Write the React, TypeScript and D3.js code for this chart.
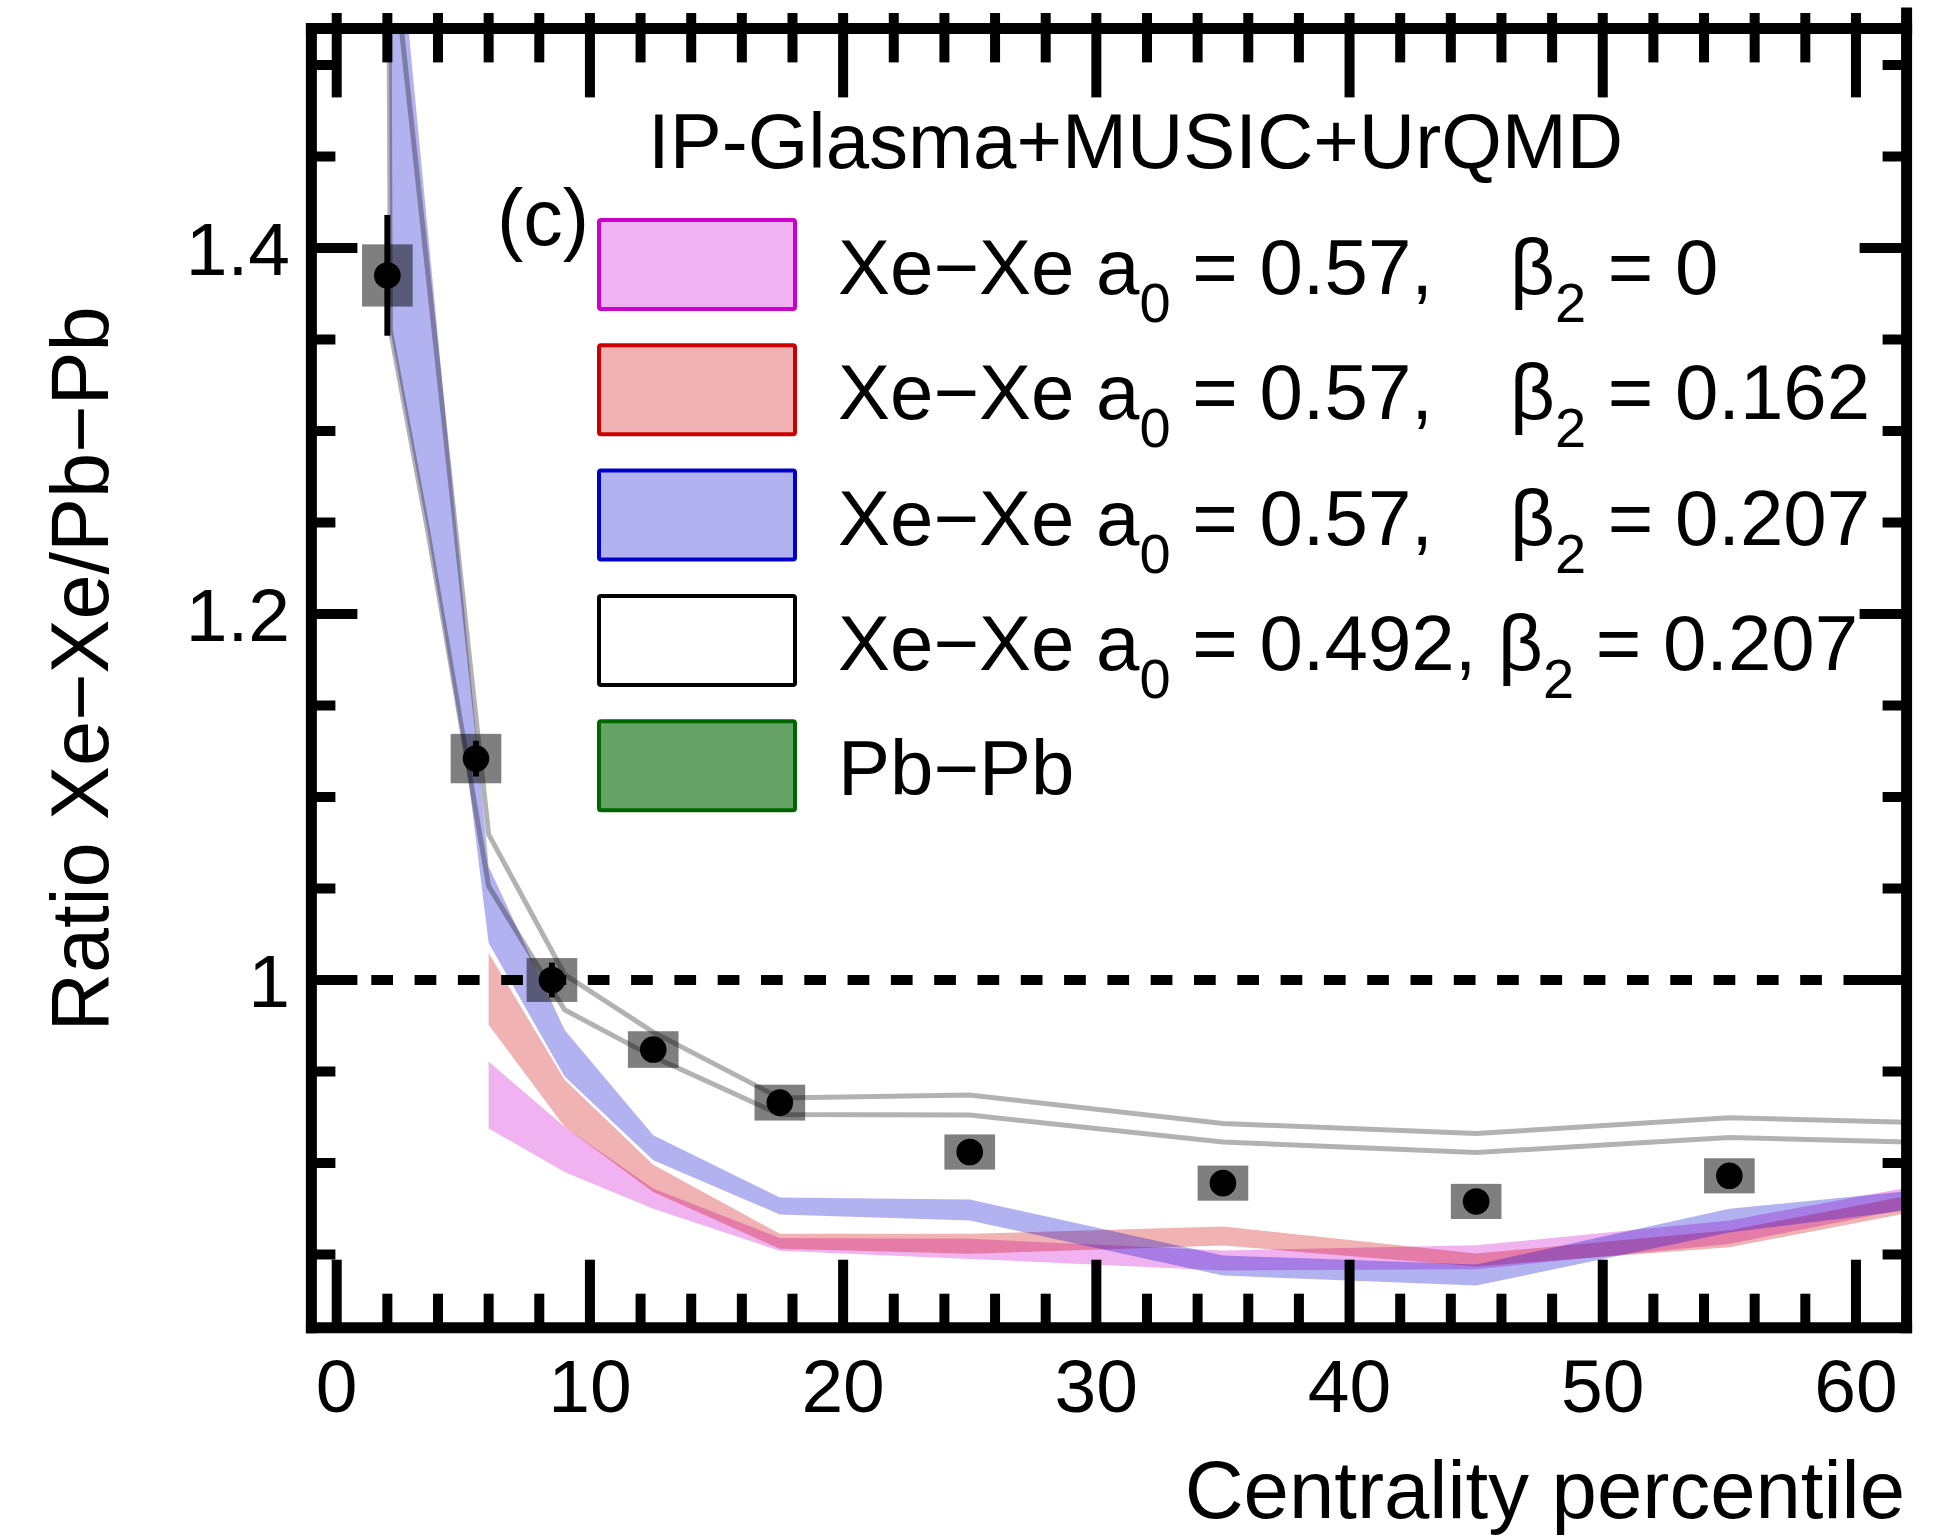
import React from 'react';
import * as d3 from 'd3';

const W = 1952;
const H = 1538;
const FONT = '"Liberation Sans", Arial, Helvetica, sans-serif';

const X_DOMAIN: [number, number] = [-1, 62];
const Y_DOMAIN: [number, number] = [0.81, 1.52];

const xMajorTicks = [0, 10, 20, 30, 40, 50, 60];
const xTickLabels = ['0', '10', '20', '30', '40', '50', '60'];
const yMajorTicks = [1.0, 1.2, 1.4];
const yTickLabels = ['1', '1.2', '1.4'];

// ALICE-like data points
const dataX = [2, 5.5, 8.5, 12.5, 17.5, 25, 35, 45, 55];
const dataY = [1.385, 1.121, 1.0, 0.962, 0.933, 0.906, 0.889, 0.879, 0.893];
const dataStat = [0.033, 0.0098, 0.0095, 0.005, 0.005, 0.004, 0.004, 0.004, 0.004];
const dataSys = [0.017, 0.0135, 0.012, 0.01, 0.0098, 0.0096, 0.0096, 0.0096, 0.0096];

// Xe-Xe a0=0.57, beta2=0
const pinkX = [6, 9, 12.5, 17.5, 25, 35, 45, 55, 62];
const pinkLow = [0.9189, 0.8951, 0.875, 0.852, 0.8476, 0.8412, 0.842, 0.8558, 0.875];
const pinkHigh = [0.9554, 0.9198, 0.886, 0.859, 0.8586, 0.8522, 0.855, 0.8686, 0.8865];

// Xe-Xe a0=0.57, beta2=0.162
const redX = [6, 9, 12.5, 17.5, 25, 35, 45, 55, 62];
const redLow = [0.9755, 0.9198, 0.8842, 0.8531, 0.8504, 0.8549, 0.8435, 0.854, 0.8725];
const redHigh = [1.0147, 0.9455, 0.899, 0.8613, 0.8613, 0.8653, 0.8505, 0.8632, 0.882];

// Xe-Xe a0=0.57, beta2=0.207
const blueX = [1.95, 2.12, 3.6, 5.2, 6, 9, 12.5, 17.5, 25, 35, 45, 55, 62];
const blueLow = [1.9, 1.355, 1.245, 1.11, 1.0202, 0.9472, 0.9015, 0.8719, 0.8686, 0.8385, 0.833, 0.862, 0.874];
const blueHigh = [1.647, 1.623, 1.409, 1.178, 1.062, 0.9727, 0.9152, 0.8811, 0.88, 0.8495, 0.8445, 0.875, 0.8845];

// Xe-Xe a0=0.492, beta2=0.207 (outline only)
const grayX = [1.95, 2.12, 3.6, 4.4, 6, 9, 12.5, 17.5, 25, 35, 45, 55, 62];
const grayLow = [1.9, 1.355, 1.245, 1.181, 1.0513, 0.9837, 0.958, 0.9265, 0.9262, 0.9115, 0.9057, 0.9139, 0.9115];
const grayHigh = [1.596, 1.575, 1.386, 1.284, 1.0796, 1.003, 0.9715, 0.9355, 0.9371, 0.9216, 0.9161, 0.9247, 0.9222];

const legendFills = ['rgba(204,0,204,0.3)', 'rgba(204,0,0,0.3)', 'rgba(0,0,204,0.3)', '#ffffff', 'rgba(0,102,0,0.6)'];
const legendStrokes = ['#cc00cc', '#cc0000', '#0000cc', '#000000', '#006600'];
const legendA0 = ['0.57,', '0.57,', '0.57,', '0.492,', ''];
const legendBeta = ['0', '0.162', '0.207', '0.207', ''];

export default function App() {
  const left = 311.4, right = 1906.6, top = 28.4, bottom = 1327.7;
  const x = d3.scaleLinear().domain(X_DOMAIN).range([left, right]);
  const y = d3.scaleLinear().domain(Y_DOMAIN).range([bottom, top]);

  const bandPath = (xs: number[], lo: number[], hi: number[]) =>
    d3.area<number>()
      .x((_, i) => x(xs[i]))
      .y0((_, i) => y(lo[i]))
      .y1((_, i) => y(hi[i]))(xs) || '';
  const linePath = (xs: number[], vs: number[]) =>
    d3.line<number>().x((_, i) => x(xs[i])).y((_, i) => y(vs[i]))(xs) || '';

  const xMinor = d3.range(0, 63, 2).filter((v) => v % 10 !== 0);
  const yMinor = d3.range(17, 31).map((k) => +(k * 0.05).toFixed(2)).filter((v) => v > 0.81 && v < 1.52 && Math.abs(v * 5 - Math.round(v * 5)) > 1e-6);

  const TW = 10;
  const frameW = 11;

  return (
    <svg width={W} height={H} style={{ position: 'absolute', left: 0, top: 0, background: '#fff' }} fontFamily={FONT}>
      <rect x={0} y={0} width={W} height={H} fill="#fff" />
      <defs>
        <clipPath id="plotclip">
          <rect x={left} y={top} width={right - left} height={bottom - top} />
        </clipPath>
      </defs>

      <g clipPath="url(#plotclip)">
        <path d={bandPath(pinkX, pinkLow, pinkHigh)} fill="rgb(204,0,204)" fillOpacity={0.3} />
        <path d={bandPath(redX, redLow, redHigh)} fill="rgb(204,0,0)" fillOpacity={0.3} />
        <path d={bandPath(blueX, blueLow, blueHigh)} fill="rgb(0,0,204)" fillOpacity={0.3} />
        <path d={linePath(grayX, grayLow)} fill="none" stroke="#000" strokeOpacity={0.3} strokeWidth={5} />
        <path d={linePath(grayX, grayHigh)} fill="none" stroke="#000" strokeOpacity={0.3} strokeWidth={5} />
        <line x1={328} x2={right} y1={y(1)} y2={y(1)} stroke="#000" strokeWidth={10} strokeDasharray="21.7 21.6" />
        {dataX.map((d, i) => (
          <rect key={'s' + i} x={x(d - 1)} y={y(dataY[i] + dataSys[i])} width={x(d + 1) - x(d - 1)}
            height={y(dataY[i] - dataSys[i]) - y(dataY[i] + dataSys[i])} fill="#000" fillOpacity={0.5} />
        ))}
        {dataX.map((d, i) => (
          <line key={'e' + i} x1={x(d)} x2={x(d)} y1={y(dataY[i] + dataStat[i])} y2={y(dataY[i] - dataStat[i])} stroke="#000" strokeWidth={6} />
        ))}
        {dataX.map((d, i) => (
          <circle key={'c' + i} cx={x(d)} cy={y(dataY[i])} r={13.3} fill="#000" />
        ))}
      </g>

      {/* ticks */}
      <g stroke="#000" strokeWidth={TW}>
        {xMinor.map((v) => (
          <g key={'xm' + v}>
            <line x1={x(v)} x2={x(v)} y1={bottom} y2={bottom - 34} />
            <line x1={x(v)} x2={x(v)} y1={13} y2={top + 34} />
          </g>
        ))}
        {xMajorTicks.map((v) => (
          <g key={'xM' + v}>
            <line x1={x(v)} x2={x(v)} y1={bottom} y2={bottom - 68} />
            <line x1={x(v)} x2={x(v)} y1={13} y2={top + 69} />
          </g>
        ))}
        {yMinor.map((v) => (
          <g key={'ym' + v}>
            <line x1={left} x2={left + 24} y1={y(v)} y2={y(v)} />
            <line x1={right} x2={right - 24} y1={y(v)} y2={y(v)} />
          </g>
        ))}
        {yMajorTicks.map((v) => (
          <g key={'yM' + v}>
            <line x1={left} x2={left + 46} y1={y(v)} y2={y(v)} />
            <line x1={right} x2={right - 47} y1={y(v)} y2={y(v)} />
          </g>
        ))}
      </g>

      {/* frame */}
      <g stroke="#000" strokeWidth={frameW} strokeLinecap="square">
        <line x1={left} x2={right} y1={top} y2={top} />
        <line x1={left} x2={right} y1={bottom} y2={bottom} />
        <line x1={left} x2={left} y1={top} y2={bottom} />
        <line x1={right} x2={right} y1={13} y2={bottom} />
      </g>

      {/* tick labels */}
      {xMajorTicks.map((v, i) => (
        <text key={'xl' + v} x={x(v)} y={1412} fontSize={75} textAnchor="middle" fill="#000">{xTickLabels[i]}</text>
      ))}
      {yMajorTicks.map((v, i) => (
        <text key={'yl' + v} x={290} y={y(v) + 27} fontSize={75} textAnchor="end" fill="#000">{yTickLabels[i]}</text>
      ))}

      {/* axis titles */}
      <text x={1905} y={1518} fontSize={81.5} textAnchor="end" fill="#000">Centrality percentile</text>
      <text transform="translate(108,669) rotate(-90)" fontSize={81} textAnchor="middle" fill="#000">Ratio Xe−Xe/Pb−Pb</text>

      {/* title and panel label */}
      <text x={648} y={168} fontSize={78} fill="#000">IP-Glasma+MUSIC+UrQMD</text>
      <text x={497} y={245} fontSize={79} fill="#000">(c)</text>

      {/* legend */}
      {legendFills.map((f, k) => {
        const ry = 220 + 125.3 * k;
        const by = 294 + 125.3 * k;
        return (
          <g key={'lg' + k}>
            <rect x={599} y={ry} width={196} height={89} fill={f} stroke={legendStrokes[k]} strokeWidth={4} rx={2} />
            {k < 4 ? (
              <text x={838} y={by} fontSize={78} fill="#000">
                Xe−Xe a<tspan dy={28} fontSize={56}>0</tspan>
                <tspan dy={-28}>{' = ' + legendA0[k]}</tspan>
                {k < 3 ? <tspan x={1510}>β</tspan> : <tspan>{' β'}</tspan>}
                <tspan dy={28} fontSize={56}>2</tspan>
                <tspan dy={-28}>{' = ' + legendBeta[k]}</tspan>
              </text>
            ) : (
              <text x={838} y={by} fontSize={78} fill="#000">Pb−Pb</text>
            )}
          </g>
        );
      })}
    </svg>
  );
}
